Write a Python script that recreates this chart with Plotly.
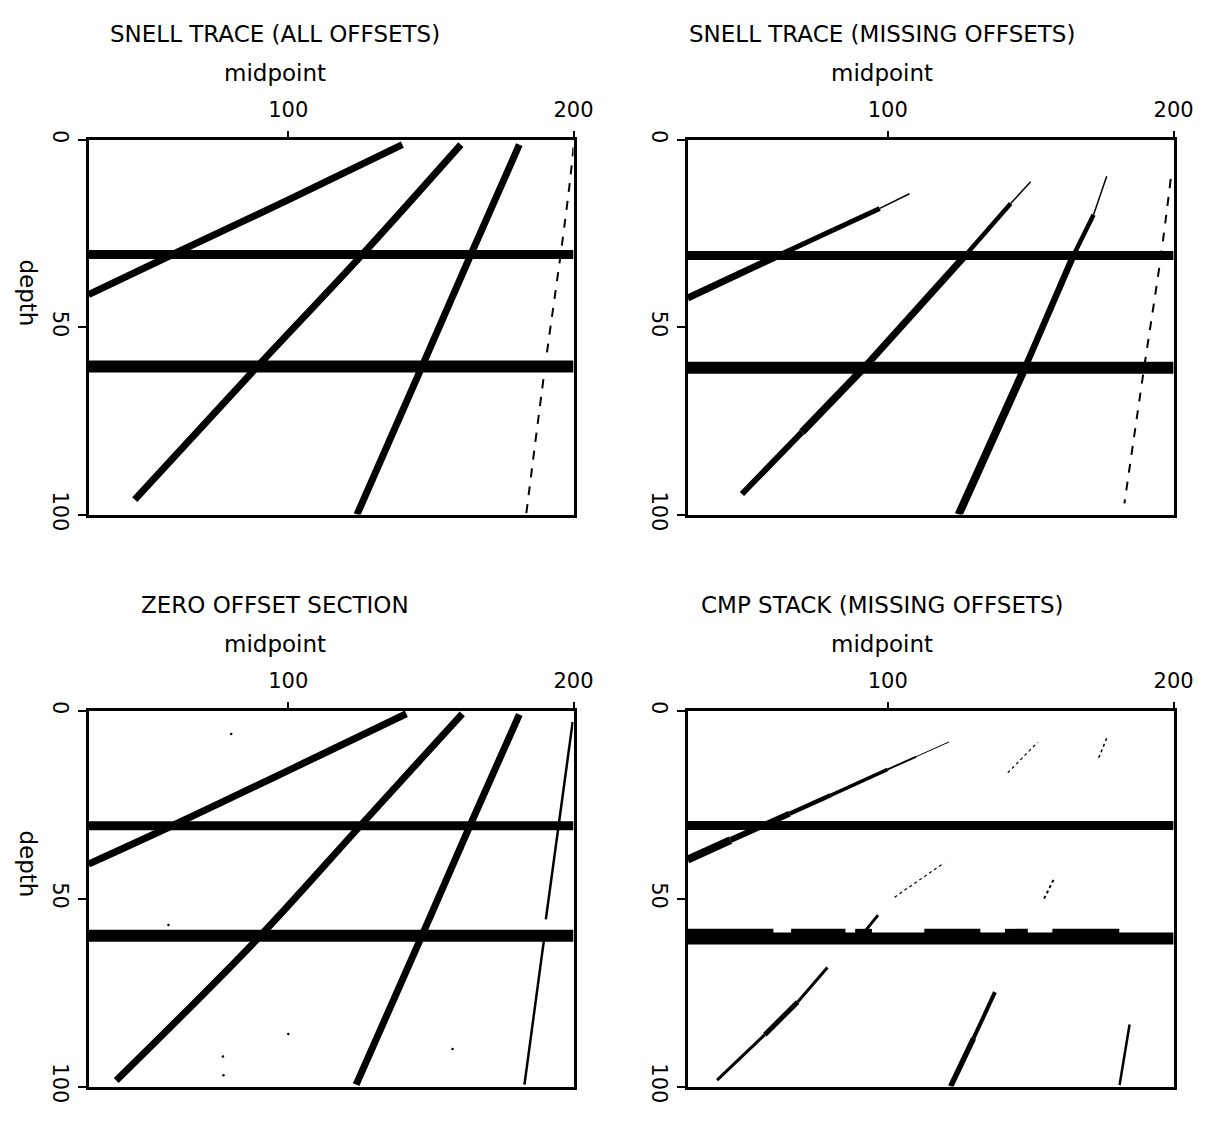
import plotly.graph_objects as go

# ---------------- data (midpoint, depth) ----------------
titles = ["SNELL TRACE (ALL OFFSETS)", "SNELL TRACE (MISSING OFFSETS)",
          "ZERO OFFSET SECTION", "CMP STACK (MISSING OFFSETS)"]
x_tick_vals = [100, 200]
y_tick_vals = [0, 50, 100]
x_title = "midpoint"
y_title = "depth"

# Panel 1: Snell trace, all offsets
p1_reflector_depths = [30.6, 60.5]
p1_a_mid = [140, 100, 60, 30]
p1_a_dep = [1.3, 16, 30.4, 41.3]
p1_b_mid = [160.5, 125.5, 89.3, 46.2]
p1_b_dep = [1.3, 31, 60.4, 96]
p1_c_mid = [181, 163.8, 146.6, 124.1]
p1_c_dep = [1.3, 31, 61, 100]
p1_d_mid = [200, 198.6, 195.5, 190.3, 183.4]
p1_d_dep = [2, 12, 30.5, 59, 100]

# Panel 2: Snell trace, missing offsets
p2_reflector_depths = [30.9, 60.8]
p2_a_mid = [107.6, 97.2, 62.8, 30]
p2_a_dep = [14.4, 18.3, 30.5, 42.2]
p2_b_mid = [150, 143, 126.6, 92, 70, 49]
p2_b_dep = [11.2, 17, 31.3, 60.6, 78, 94.5]
p2_c_mid = [176.6, 172, 165, 148, 124.8]
p2_c_dep = [9.7, 20, 30.8, 60.8, 100]
p2_d_mid = [199, 195.5, 189.7, 182.8]
p2_d_dep = [10.4, 31.3, 60.8, 97]

# Panel 3: zero offset section
p3_reflector_depths = [30.6, 59.9]
p3_a_mid = [141.4, 61, 30]
p3_a_dep = [0.8, 30, 40.8]
p3_b_mid = [161, 125.5, 89.2, 39.7]
p3_b_dep = [0.8, 30.4, 60.7, 98.4]
p3_c_mid = [181, 163.8, 146.6, 123.8]
p3_c_dep = [1, 30.4, 60.3, 99.5]
p3_d_upper_mid = [199.7, 194.8, 190.3]
p3_d_upper_dep = [3, 30.4, 55.5]
p3_d_lower_mid = [189.9, 182.8]
p3_d_lower_dep = [59.5, 99.5]
p3_speck_mid = [80, 100, 157.6, 58, 77.1, 77.3]
p3_speck_dep = [6.2, 86, 90, 57, 92, 97]

# Panel 4: CMP stack, missing offsets
p4_reflector_depths = [30.5, 60.6]
p4_r2_hatch_start = [30, 66.2, 88.6, 112.8, 141, 157.6]
p4_r2_hatch_end = [60, 85.2, 94.5, 132.4, 149, 181]
p4_a_mid = [121.4, 110, 100, 80, 65.6, 45, 30]
p4_a_dep = [8.3, 12.2, 15.6, 22.5, 27.4, 34.4, 39.6]
p4_b1_mid = [142, 152.4]
p4_b1_dep = [16.5, 8.4]
p4_b2_mid = [102.4, 119.7]
p4_b2_dep = [49.6, 40.5]
p4_b3_mid = [92, 96.6]
p4_b3_dep = [58.7, 54.4]
p4_b4_mid = [40.3, 57, 68.5, 78.9]
p4_b4_dep = [98.3, 86.2, 77.5, 68.3]
p4_c1_mid = [173.8, 176.6]
p4_c1_dep = [12.5, 7.3]
p4_c2_mid = [154.7, 158.1]
p4_c2_dep = [50, 44.8]
p4_c3_mid = [122, 130, 137.5]
p4_c3_dep = [100, 87.2, 74.9]
p4_d_mid = [181.1, 184.6]
p4_d_dep = [99.6, 83.5]

# ---------------- layout geometry ----------------
W, H = 1230, 1125
LX, RX = (90, 583), (699, 1193)
TY, BY = (133, 517), (718, 1103)
FONT = "DejaVu Sans"


def fx(p):
    return p / W


def fy(p):
    return 1 - p / H


fig = go.Figure()


def line(ax, mids, deps, width, dash="solid"):
    fig.add_trace(go.Scatter(
        x=mids, y=deps, mode="lines", xaxis="x" + ax, yaxis="y" + ax,
        line=dict(color="black", width=width, dash=dash, shape="spline", smoothing=1.0),
        hoverinfo="skip", showlegend=False))


def tapered(ax, mids, deps, widths):
    for i in range(len(mids) - 1):
        line(ax, mids[i:i + 2], deps[i:i + 2], widths[i])


def reflectors(ax, depths, widths):
    for d, w in zip(depths, widths):
        line(ax, [30, 200], [d, d], w)


# Panel 1
reflectors("", p1_reflector_depths, [9, 12])
line("", p1_a_mid, p1_a_dep, 7)
line("", p1_b_mid, p1_b_dep, 7)
line("", p1_c_mid, p1_c_dep, 7)
line("", p1_d_mid, p1_d_dep, 2, "dash")

# Panel 2
reflectors("2", p2_reflector_depths, [9, 12])
tapered("2", p2_a_mid, p2_a_dep, [1.5, 5, 7])
tapered("2", p2_b_mid, p2_b_dep, [1.5, 4.5, 7, 7.5, 6])
tapered("2", p2_c_mid, p2_c_dep, [1.5, 4.5, 6.5, 8])
line("2", p2_d_mid, p2_d_dep, 2, "dash")

# Panel 3
reflectors("3", p3_reflector_depths, [9, 12])
line("3", p3_a_mid, p3_a_dep, 7)
line("3", p3_b_mid, p3_b_dep, 7)
line("3", p3_c_mid, p3_c_dep, 7)
line("3", p3_d_upper_mid, p3_d_upper_dep, 2.5)
line("3", p3_d_lower_mid, p3_d_lower_dep, 2.5)
fig.add_trace(go.Scatter(x=p3_speck_mid, y=p3_speck_dep, mode="markers", xaxis="x3", yaxis="y3",
                         marker=dict(color="black", size=2.5), hoverinfo="skip", showlegend=False))

# Panel 4
reflectors("4", p4_reflector_depths, [9, 12])
for s, e in zip(p4_r2_hatch_start, p4_r2_hatch_end):
    line("4", [s, e], [p4_reflector_depths[1] - 1.9, p4_reflector_depths[1] - 1.9], 5)
tapered("4", p4_a_mid, p4_a_dep, [1, 2, 3.5, 4.5, 6, 8])
line("4", p4_b1_mid, p4_b1_dep, 1.2, "dot")
line("4", p4_b2_mid, p4_b2_dep, 1.2, "dot")
line("4", p4_b3_mid, p4_b3_dep, 3)
tapered("4", p4_b4_mid, p4_b4_dep, [3, 5, 3])
line("4", p4_c1_mid, p4_c1_dep, 1.5, "dot")
line("4", p4_c2_mid, p4_c2_dep, 2, "dot")
tapered("4", p4_c3_mid, p4_c3_dep, [5.5, 4])
line("4", p4_d_mid, p4_d_dep, 2.5)

# ---------------- axes ----------------
panels = [("", LX, TY), ("2", RX, TY), ("3", LX, BY), ("4", RX, BY)]
layout = dict(width=W, height=H, margin=dict(l=0, r=0, t=0, b=0),
              paper_bgcolor="white", plot_bgcolor="white",
              font=dict(family=FONT, color="black"), showlegend=False)
annotations = []
for i, (ax, (x0, x1), (y0, y1)) in enumerate(panels):
    layout["xaxis" + ax] = dict(
        domain=[fx(x0), fx(x1)], anchor="y" + ax, side="top", range=[30, 200],
        tickvals=x_tick_vals, ticks="outside", ticklen=6, tickwidth=2, tickcolor="black",
        showline=True, linewidth=2.5, linecolor="black", mirror=True,
        showgrid=False, zeroline=False, tickfont=dict(size=21, family=FONT),
        ticklabelstandoff=6)
    layout["yaxis" + ax] = dict(
        domain=[fy(y1), fy(y0)], anchor="x" + ax, range=[100, 0],
        tickvals=y_tick_vals, tickangle=90, ticks="outside", ticklen=8, tickwidth=2,
        tickcolor="black", showline=True, linewidth=2.5, linecolor="black", mirror=True,
        showgrid=False, zeroline=False, tickfont=dict(size=21, family=FONT),
        ticklabelstandoff=0)
    cx = 280 if x0 == LX[0] else 897
    annotations.append(dict(text=titles[i], x=fx(cx), y=fy(y0 - 108), xref="paper", yref="paper",
                            showarrow=False, xanchor="center", yanchor="middle",
                            font=dict(size=23, family=FONT)))
    annotations.append(dict(text=x_title, x=fx(cx), y=fy(y0 - 68), xref="paper", yref="paper",
                            showarrow=False, xanchor="center", yanchor="middle",
                            font=dict(size=23, family=FONT)))
    if x0 == LX[0]:
        annotations.append(dict(text=y_title, x=fx(28), y=fy(y0 + 157), xref="paper", yref="paper",
                                showarrow=False, xanchor="center", yanchor="middle", textangle=90,
                                font=dict(size=23, family=FONT)))
layout["annotations"] = annotations
fig.update_layout(**layout)
fig.write_html("out.html")
